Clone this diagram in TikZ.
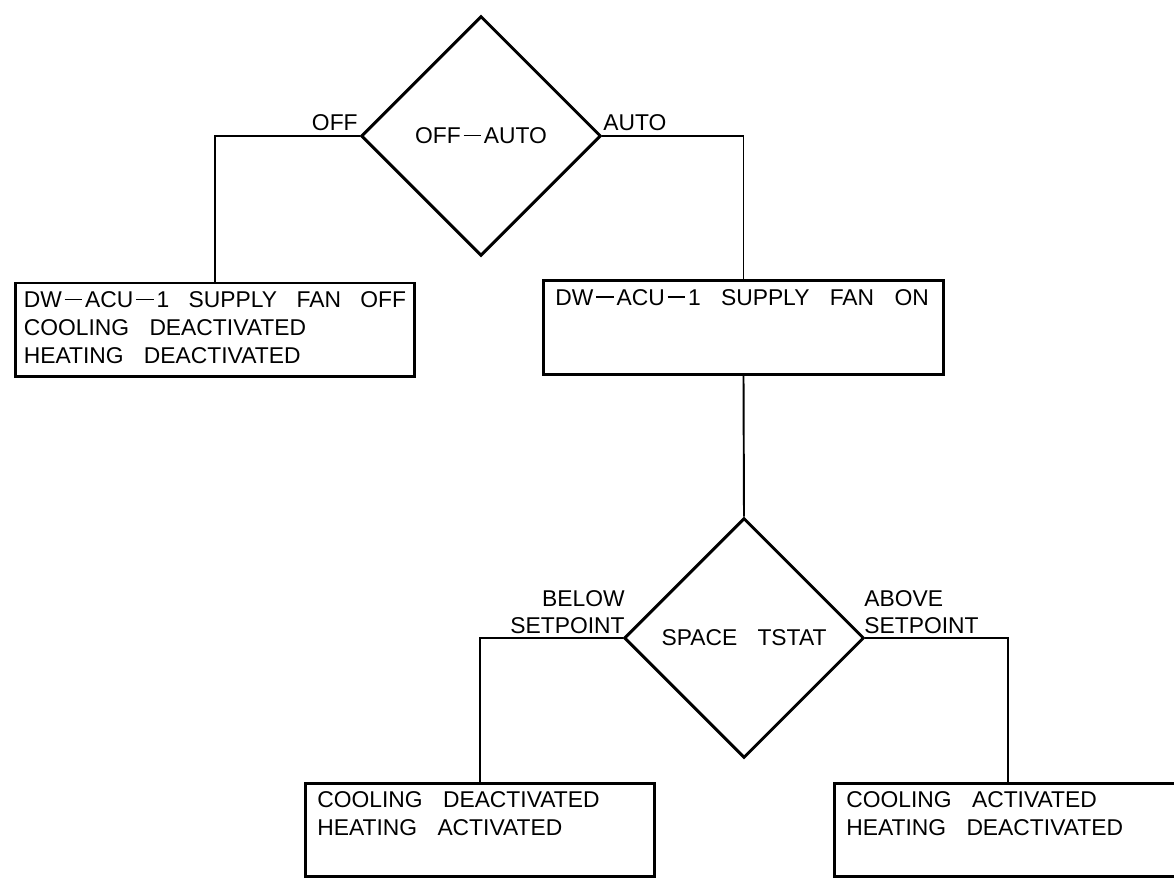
\documentclass[tikz,border=0pt]{standalone}
\usepackage{fontspec}
\setmainfont{Liberation Sans}[WordSpace=3.2]
\usetikzlibrary{shapes.geometric}

\newcommand{\boxfont}{\fontsize{13}{15.9}\selectfont}
\newcommand{\lblfont}{\fontsize{13}{15.3}\selectfont}
\newcommand{\cdash}{\kern1.6pt\rule[0.33em]{10pt}{0.9pt}\kern1.6pt}

\begin{document}
\begin{tikzpicture}[x=0.02cm, y=-0.02cm,
  decision/.style={diamond, draw, line width=1.7pt, aspect=1,
    minimum width=4.8cm, minimum height=4.8cm, inner sep=0pt, font=\lblfont},
  statebox/.style={draw, line width=1.7pt, minimum height=1.88cm, align=flush left,
    inner xsep=7pt, inner ysep=0pt, font=\boxfont},
  lbl/.style={inner sep=0pt, font=\lblfont},
  wire/.style={line width=1.1pt}]
  \path[use as bounding box, clip] (0,0) rectangle (1174,878);

  % OFF-AUTO switch
  \node[decision] (sw) at (481,136) {OFF\cdash AUTO};
  \node[lbl, anchor=base east] (offlbl) at (358,131) {OFF};
  \node[lbl, anchor=base west] (autolbl) at (603,131) {AUTO};

  % fan states
  \node[statebox, inner xsep=5pt, text width=7.647cm] (fanoff) at (215,330)
    {\strut DW\cdash ACU\cdash 1 SUPPLY FAN OFF\\COOLING DEACTIVATED\\HEATING DEACTIVATED\strut};
  \node[statebox, text width=7.526cm] (fanon) at (743.5,327.5)
    {\strut DW\cdash ACU\cdash 1 SUPPLY FAN ON\\\mbox{}\\\mbox{}\strut};

  \draw[wire] (sw.west) -| (fanoff.north);
  \draw[wire] (sw.east) -| (fanon.north);

  % space thermostat
  \node[decision] (tstat) at (744,638) {SPACE TSTAT};
  \node[lbl, anchor=south east, align=right] (belowlbl) at (625,634) {BELOW\\SETPOINT};
  \node[lbl, anchor=south west, align=left] (abovelbl) at (864,634) {ABOVE\\SETPOINT};

  \node[statebox, text width=6.506cm] (heat) at (480,830)
    {\strut COOLING DEACTIVATED\\HEATING ACTIVATED\\\mbox{}\strut};
  \node[statebox, text width=6.466cm] (cool) at (1008,830)
    {\strut COOLING ACTIVATED\\HEATING DEACTIVATED\\\mbox{}\strut};

  \draw[wire] (fanon.south) -- (tstat.north);
  \draw[wire] (tstat.west) -| (heat.north);
  \draw[wire] (tstat.east) -| (cool.north);
\end{tikzpicture}
\end{document}
